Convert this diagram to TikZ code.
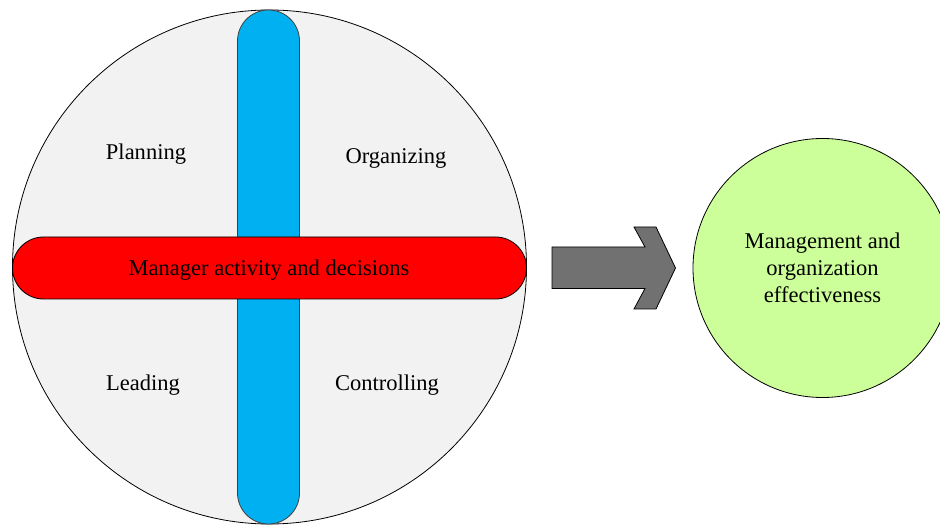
\documentclass[tikz,border=0pt]{standalone}
\usepackage{fontspec}
\setmainfont{Liberation Serif}
\definecolor{discgray}{HTML}{F2F2F2}
\definecolor{barblue}{HTML}{00B0F0}
\definecolor{barred}{HTML}{FF0000}
\definecolor{arrowgray}{HTML}{717171}
\definecolor{resultgreen}{HTML}{CCFF99}
\begin{document}
\begin{tikzpicture}[x=1bp,y=-1bp,
  outline/.style={draw=black, line width=0.8bp},
  lbl/.style={font=\fontsize{22.6}{27.1}\selectfont, text=black, inner sep=0pt},
  disc/.style={outline, circle, fill=discgray, inner sep=0pt, minimum size=514bp},
  vbar/.style={draw=black!75, line width=0.8bp, fill=barblue, inner sep=0pt, minimum width=62bp, minimum height=514bp, rounded corners=31bp},
  hbar/.style={outline, fill=barred, inner sep=0pt, minimum width=514bp, minimum height=62bp, rounded corners=31bp},
  result/.style={outline, circle, fill=resultgreen, inner sep=0pt, minimum size=259bp, align=center}
]
\useasboundingbox (0,0) rectangle (940,525);
\begin{scope}
\clip (0,0) rectangle (940,525);
\node[disc] (disc) at (269.5,267) {};
\node[vbar] (vbar) at (268.5,267) {};
\node[hbar, lbl, outline, fill=barred, minimum width=514bp, minimum height=62bp] (hbar) at (269.5,268) {};
\node[lbl] (mgr) at (269,270) {Manager activity and decisions};
\node[lbl] (plan) at (146,154) {Planning};
\node[lbl] (org) at (396,158) {Organizing};
\node[lbl] (lead) at (143,385) {Leading};
\node[lbl] (ctrl) at (387,385) {Controlling};
\node[result, lbl, outline, fill=resultgreen, minimum size=259bp] (res) at (822.5,268) {Management and\\organization\\effectiveness};
\coordinate (a0) at (552,247);
\draw[outline, fill=arrowgray] (a0) -- (645,247) -- (634,227) -- (656,227) -- (675.5,268) -- (656,309) -- (634,309) -- (645,288.5) -- (552,288.5) -- cycle;
\end{scope}
\end{tikzpicture}
\end{document}
